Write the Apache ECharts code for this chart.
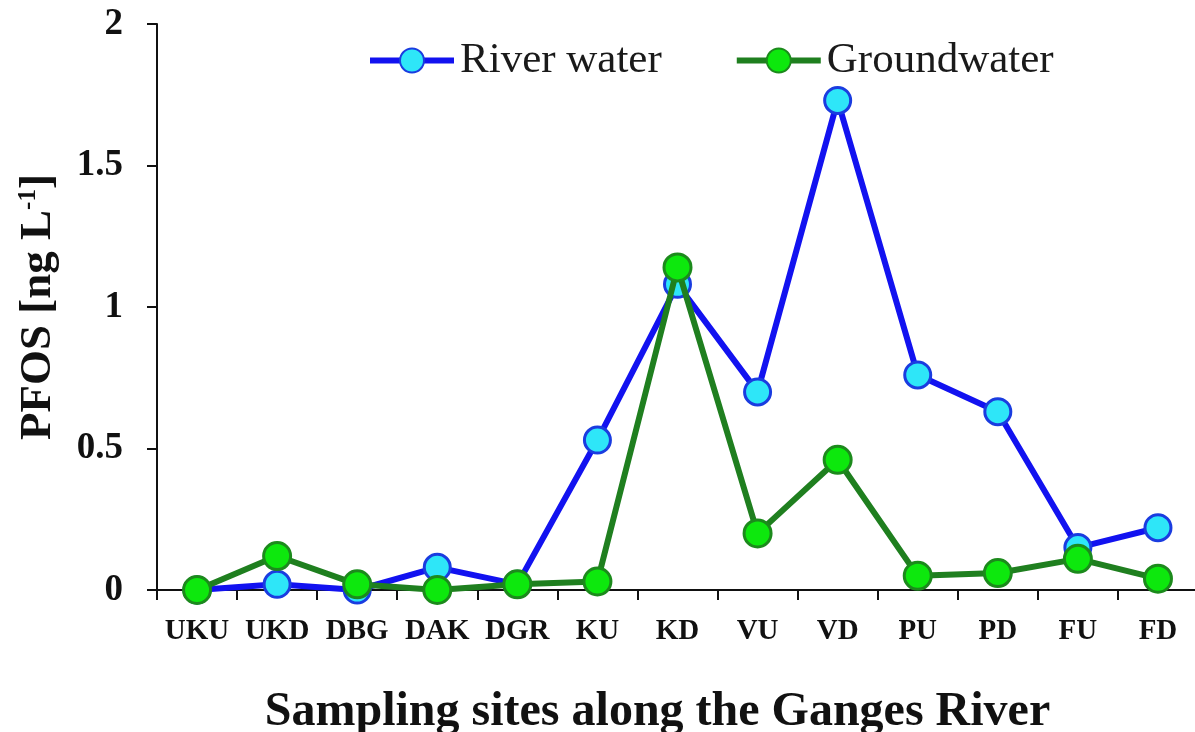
<!DOCTYPE html>
<html>
<head>
<meta charset="utf-8">
<script src="https://cdn.jsdelivr.net/npm/echarts@6/dist/echarts.min.js"></script>
<style>
  html, body { margin: 0; padding: 0; background: #fff; }
  #chart { width: 1195px; height: 732px; }
</style>
</head>
<body>
<div id="chart"></div>
<script>
// Sampling sites along the Ganges, upstream to downstream
const sites = ['UKU', 'UKD', 'DBG', 'DAK', 'DGR', 'KU', 'KD', 'VU', 'VD', 'PU', 'PD', 'FU', 'FD'];
// PFOS concentrations, ng/L
const riverWater  = [0, 0.02, 0, 0.08, 0.02, 0.53, 1.08, 0.70, 1.73, 0.76, 0.63, 0.15, 0.22];
const groundwater = [0, 0.12, 0.02, 0, 0.02, 0.03, 1.14, 0.20, 0.46, 0.05, 0.06, 0.11, 0.04];
const yTicks = { min: 0, max: 2, step: 0.5 };

const serif = '"Liberation Serif", "DejaVu Serif", serif';

const chart = echarts.init(document.getElementById('chart'), null, { renderer: 'canvas' });
chart.setOption({
  animation: false,
  backgroundColor: '#ffffff',
  grid: { left: 157, right: -3, top: 24, bottom: 142, containLabel: false, outerBoundsMode: 'none' },
  legend: {
    left: 362,
    top: 34,
    itemWidth: 84,
    itemHeight: 30,
    itemGap: 72,
    lineStyle: { width: 6 },
    textStyle: { fontFamily: serif, fontSize: 43, color: '#1a1a1a', padding: [0, 0, 0, 1] },
    data: ['River water', 'Groundwater']
  },
  xAxis: {
    type: 'category',
    data: sites,
    boundaryGap: true,
    name: 'Sampling sites along the Ganges River',
    nameLocation: 'middle',
    nameGap: 99,
    nameTextStyle: { fontFamily: serif, fontWeight: 'bold', fontSize: 48, color: '#111', padding: [0, 40, 0, 0] },
    axisLine: { lineStyle: { color: '#111', width: 2 } },
    axisTick: { show: true, alignWithLabel: false, length: 10, lineStyle: { color: '#111', width: 2 } },
    axisLabel: { fontFamily: serif, fontWeight: 'bold', fontSize: 29, color: '#111', margin: 27, interval: 0 },
    splitLine: { show: false }
  },
  yAxis: {
    type: 'value',
    min: yTicks.min,
    max: yTicks.max,
    interval: yTicks.step,
    name: '{t|PFOS [ng L}{s|-1}{t|]}',
    nameLocation: 'middle',
    nameGap: 96,
    nameRotate: 90,
    nameTextStyle: {
      rich: {
        t: { fontFamily: serif, fontWeight: 'bold', fontSize: 45, color: '#111' },
        s: { fontFamily: serif, fontWeight: 'bold', fontSize: 25, color: '#111', verticalAlign: 'top', padding: [0, 0, 17, 0] }
      }
    },
    axisLine: { show: true, lineStyle: { color: '#111', width: 2 } },
    axisTick: { show: true, length: 10, lineStyle: { color: '#111', width: 2 } },
    axisLabel: {
      fontFamily: serif, fontWeight: 'bold', fontSize: 37, color: '#111', margin: 34,
      formatter: v => String(v)
    },
    splitLine: { show: false }
  },
  series: [
    {
      name: 'River water',
      type: 'line',
      data: riverWater,
      symbol: 'circle',
      symbolSize: 26,
      lineStyle: { color: '#1212f0', width: 6 },
      itemStyle: { color: '#2ee6f8', borderColor: '#1a3ce0', borderWidth: 3 },
      z: 2
    },
    {
      name: 'Groundwater',
      type: 'line',
      data: groundwater,
      symbol: 'circle',
      symbolSize: 27,
      lineStyle: { color: '#1f7f1f', width: 6 },
      itemStyle: { color: '#0de80d', borderColor: '#1c8a1c', borderWidth: 3 },
      z: 3
    }
  ]
});
</script>
</body>
</html>
